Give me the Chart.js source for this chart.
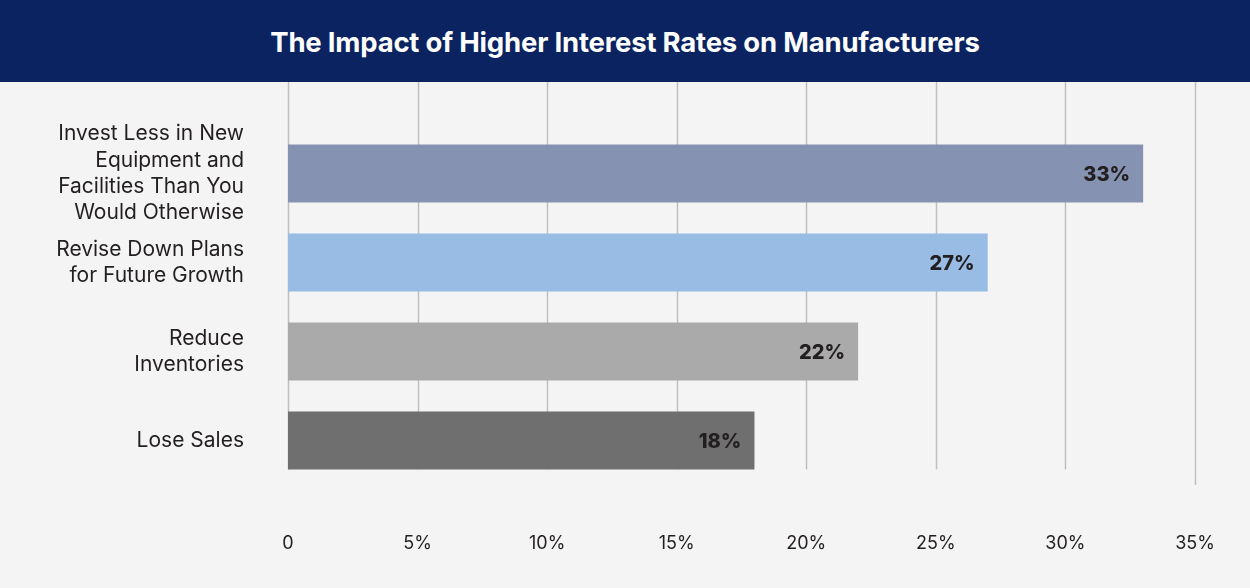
<!DOCTYPE html>
<html>
<head>
<meta charset="utf-8">
<script src="https://cdn.jsdelivr.net/npm/chart.js@4"></script>
<style>
  html, body { margin: 0; padding: 0; background: #f4f4f4; }
  #header {
    height: 82px;
    background: #0b2361;
    color: #fff;
    font-family: Inter, sans-serif;
    font-weight: 700;
    font-size: 27.5px;
    line-height: 84px;
    text-align: center;
    letter-spacing: -0.2px;
  }
  #wrap { position: relative; width: 1250px; height: 506px; }
</style>
</head>
<body>
<div id="header">The Impact of Higher Interest Rates on Manufacturers</div>
<div id="wrap"><canvas id="chart"></canvas></div>
<script>
// Survey answers, share of manufacturers (%)
const categories = [
  ['Invest Less in New', 'Equipment and', 'Facilities Than You', 'Would Otherwise'],
  ['Revise Down Plans', 'for Future Growth'],
  ['Reduce', 'Inventories'],
  ['Lose Sales']
];
const shares = [33, 27, 22, 18];
const barColors = ['#8692b2', '#98bce4', '#aaaaaa', '#6f6f6f'];
const xTicks = [0, 5, 10, 15, 20, 25, 30, 35];

// vertical grid lines, running up to the header; all but the last stop at the lowest bar
const gridPlugin = {
  id: 'tallGrid',
  beforeDatasetsDraw(chart) {
    const ctx = chart.ctx;
    const x = chart.scales.x;
    const bars = chart.getDatasetMeta(0).data;
    const last = bars[bars.length - 1];
    const barBottom = last.y + last.height / 2;
    ctx.save();
    ctx.strokeStyle = '#bfbfbf';
    ctx.lineWidth = 1.5;
    xTicks.forEach((v, i) => {
      const px = Math.round(x.getPixelForValue(v)) + 0.5;
      const end = i === xTicks.length - 1 ? chart.chartArea.bottom : barBottom;
      ctx.beginPath();
      ctx.moveTo(px, 0);
      ctx.lineTo(px, end);
      ctx.stroke();
    });
    ctx.restore();
  }
};

// percentage written inside the end of each bar
const valueLabels = {
  id: 'valueLabels',
  afterDatasetsDraw(chart) {
    const ctx = chart.ctx;
    const meta = chart.getDatasetMeta(0);
    ctx.save();
    ctx.font = '800 20px Inter, sans-serif';
    ctx.fillStyle = '#231f20';
    ctx.textAlign = 'right';
    ctx.textBaseline = 'middle';
    meta.data.forEach((bar, i) => {
      ctx.fillText(shares[i] + '%', bar.x - 13, bar.y + 1);
    });
    ctx.restore();
  }
};

new Chart(document.getElementById('chart'), {
  type: 'bar',
  data: {
    labels: categories,
    datasets: [{
      data: shares,
      backgroundColor: barColors,
      borderWidth: 0,
      barPercentage: 0.65,
      categoryPercentage: 1
    }]
  },
  options: {
    indexAxis: 'y',
    responsive: true,
    maintainAspectRatio: false,
    animation: false,
    layout: { padding: { top: 47, right: 55, bottom: 33, left: 0 } },
    plugins: {
      legend: { display: false },
      tooltip: { enabled: false }
    },
    scales: {
      x: {
        min: 0,
        max: 35,
        afterBuildTicks(scale) {
          scale.ticks = xTicks.map(v => ({ value: v }));
        },
        afterFit(scale) {
          scale.height = 70;
          scale.paddingLeft = 0;
          scale.paddingRight = 0;
        },
        grid: { display: false, drawTicks: false },
        border: { display: false },
        ticks: {
          padding: 48,
          autoSkip: false,
          maxRotation: 0,
          color: '#231f20',
          font: { family: 'Inter, sans-serif', size: 18 },
          callback: v => v === 0 ? '0' : v + '%'
        }
      },
      y: {
        afterFit(scale) {
          scale.width = 288;
          scale.paddingTop = 0;
          scale.paddingBottom = 0;
        },
        grid: { display: false, drawTicks: false },
        border: { display: false },
        ticks: {
          padding: 44,
          autoSkip: false,
          color: '#231f20',
          font: { family: 'Inter, sans-serif', size: 21, lineHeight: 1.25 }
        }
      }
    }
  },
  plugins: [gridPlugin, valueLabels]
});
</script>
</body>
</html>
